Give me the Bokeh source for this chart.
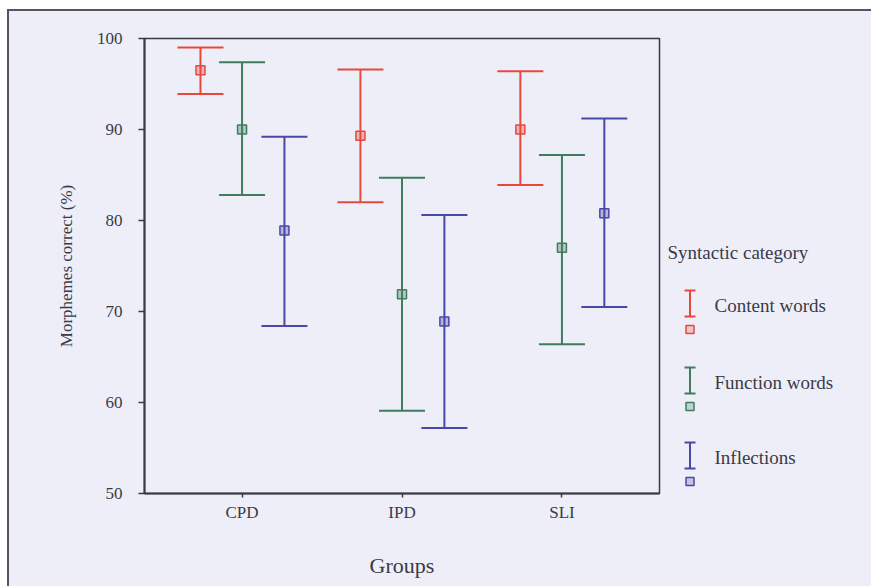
from bokeh.plotting import figure
from bokeh.layouts import row
from bokeh.models import (ColumnDataSource, Whisker, TeeHead, FactorRange, Range1d, FixedTicker)
from bokeh.transform import dodge
from bokeh.embed import file_html
from bokeh.resources import INLINE

groups = ["CPD", "IPD", "SLI"]
categories = ["Content words", "Function words", "Inflections"]
colors = ["#e8483c", "#3f7d5c", "#4848a8"]
offsets = [-0.26, 0.0, 0.265]

means = {
    "Content words": [96.5, 89.3, 90.0],
    "Function words": [90.0, 71.9, 77.0],
    "Inflections": [78.9, 68.9, 80.8],
}
upper = {
    "Content words": [99.0, 96.6, 96.4],
    "Function words": [97.4, 84.7, 87.2],
    "Inflections": [89.2, 80.6, 91.2],
}
lower = {
    "Content words": [93.9, 82.0, 83.9],
    "Function words": [82.8, 59.1, 66.4],
    "Inflections": [68.4, 57.2, 70.5],
}
y_ticks = [50, 60, 70, 80, 90, 100]
legend_title = "Syntactic category"

BG = "#eeeef9"
INK = "#3a3a46"
FONT = "Liberation Serif"

x_range = FactorRange(factors=groups, range_padding=0.11, range_padding_units="absolute")
p = figure(width=656, height=575, x_range=x_range, y_range=Range1d(50, 100),
           output_backend="svg", toolbar_location=None,
           min_border_left=135, min_border_right=6, min_border_top=27, min_border_bottom=93,
           background_fill_color=BG, border_fill_color=BG)

for cat, col, off in zip(categories, colors, offsets):
    src = ColumnDataSource(dict(group=groups, mean=means[cat], upper=upper[cat], lower=lower[cat]))
    w = Whisker(source=src, base=dodge("group", off, range=x_range), upper="upper", lower="lower",
                dimension="height", line_color=col, line_width=2,
                upper_head=TeeHead(size=46, line_color=col, line_width=2),
                lower_head=TeeHead(size=46, line_color=col, line_width=2))
    p.add_layout(w)
    p.scatter(x=dodge("group", off, range=x_range), y="mean", source=src, marker="square",
              size=9, line_color=col, line_width=1.5, fill_color=col, fill_alpha=0.35)

p.grid.visible = False
p.outline_line_color = INK
p.outline_line_width = 1.5

p.yaxis.ticker = FixedTicker(ticks=y_ticks)
p.yaxis.minor_tick_line_color = None
p.yaxis.major_tick_out = 6
p.yaxis.major_tick_in = 0
p.yaxis.major_label_standoff = 16
p.yaxis.axis_label = "Morphemes correct (%)"
p.yaxis.axis_label_standoff = 18

p.xaxis.major_tick_out = 4
p.xaxis.major_tick_in = 0
p.xaxis.major_label_standoff = 5
p.xaxis.axis_label = "Groups"
p.xaxis.axis_label_standoff = 28

for ax in (p.xaxis[0], p.yaxis[0]):
    ax.axis_line_color = INK
    ax.axis_line_width = 2
    ax.major_tick_line_color = INK
    ax.major_tick_line_width = 1.5
    ax.major_label_text_font = FONT
    ax.major_label_text_color = INK
    ax.major_label_text_font_size = "17px"
    ax.axis_label_text_font = FONT
    ax.axis_label_text_color = INK
    ax.axis_label_text_font_style = "normal"
p.yaxis.axis_label_text_font_size = "17px"
p.xaxis.axis_label_text_font_size = "22px"

# legend panel: its frame is aligned with the main frame (page y 38..493);
# data y = 586 - page y, data x = page x - 665
lg = figure(width=206, height=575, x_range=Range1d(0, 206), y_range=Range1d(93, 548),
            output_backend="svg", toolbar_location=None, min_border=0,
            background_fill_color=BG, border_fill_color=BG, outline_line_color=None)
lg.axis.visible = False
lg.grid.visible = False

text_y = [281, 204, 129]
lg.text(x=[2], y=[334], text=[legend_title], text_font=FONT, text_font_size="19px",
        text_color=INK, text_baseline="middle")
lg.text(x=[49] * 3, y=text_y, text=categories, text_font=FONT, text_font_size="19px",
        text_color=INK, text_baseline="middle")
cx = 24.5
for col, ty in zip(colors, text_y):
    lg.segment(x0=[cx, cx - 5.5, cx - 5.5], y0=[ty + 15, ty + 15, ty - 11],
               x1=[cx, cx + 5.5, cx + 5.5], y1=[ty - 11, ty + 15, ty - 11],
               line_color=col, line_width=2)
    lg.scatter(x=[cx], y=[ty - 24], marker="square", size=8, line_color=col, line_width=1.5,
               fill_color=col, fill_alpha=0.25)

layout = row(p, lg, spacing=0,
             styles={"margin-left": "7px", "margin-top": "9px",
                     "border-left": "2px solid #55555f", "border-top": "2px solid #55555f",
                     "background-color": BG})

open("out.html", "w").write(file_html(layout, INLINE))
